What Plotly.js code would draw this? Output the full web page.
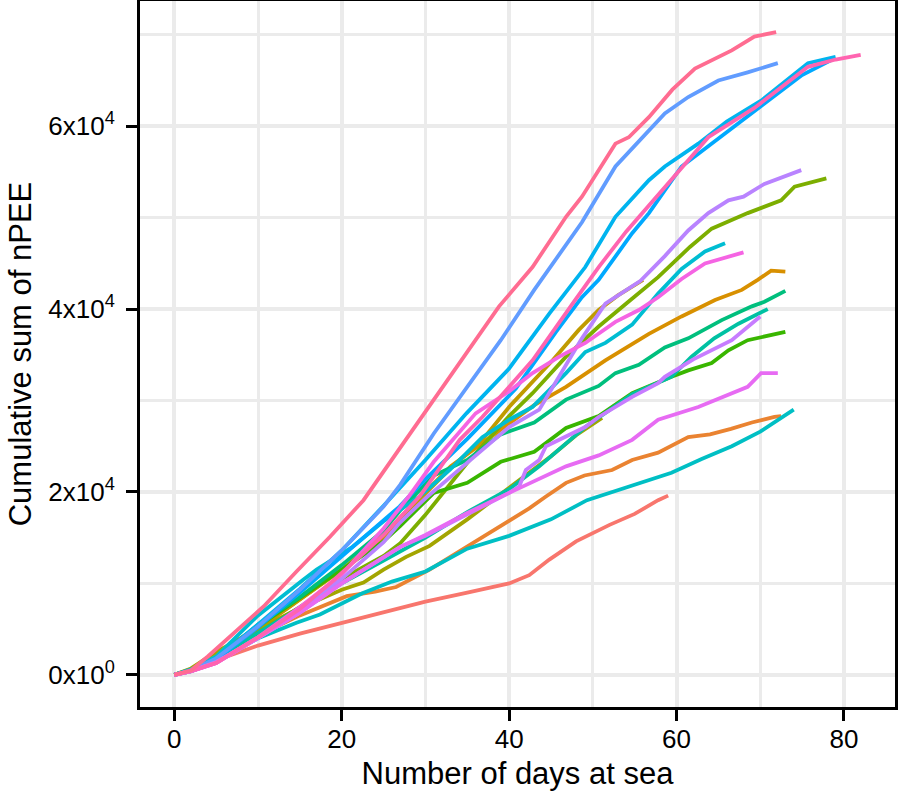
<!DOCTYPE html>
<html>
<head>
<meta charset="utf-8">
<script src="https://cdn.plot.ly/plotly-3.0.1.min.js"></script>
<style>html,body{margin:0;padding:0;background:#fff;}#chart{width:898px;height:795px;}</style>
</head>
<body>
<div id="chart"></div>
<script>
// ---- data (days at sea, cumulative nPEE) ----
const s01_days = [0, 2, 5, 10, 15, 20, 25, 30, 35, 40, 42.4, 44.8, 48, 52, 55, 57.8, 59];
const s01_npee = [0, 500, 1600, 3200, 4500, 5700, 6900, 8000, 9000, 10000, 10900, 12600, 14600, 16400, 17600, 19100, 19600];

const s02_days = [0, 2, 5, 10, 15, 20.6, 24, 26.5, 30.5, 34.4, 38, 42.4, 44.4, 46.8, 49, 52.3, 54.7, 57.8, 61.4, 64, 66.5, 69, 71.7, 72.5];
const s02_npee = [0, 400, 1400, 4300, 6500, 8600, 9100, 9600, 11500, 13700, 15800, 18200, 19500, 21000, 21800, 22400, 23500, 24300, 26000, 26300, 26900, 27600, 28200, 28300];

const s03_days = [0, 2, 5, 10, 15, 20, 25, 27, 30, 33, 36, 40, 43, 46.8, 51.5, 56.7, 60.6, 64.6, 67.8, 69.7, 71.3, 73];
const s03_npee = [0, 500, 1700, 5000, 8200, 11500, 15000, 17200, 20000, 22800, 24800, 27500, 29500, 31500, 34400, 37300, 39200, 41000, 42100, 43200, 44200, 44100];

const s04_days = [0, 2, 5, 10, 13.5, 20, 25, 29.3, 33, 36.8, 40, 45.2, 48.3, 50.7, 53, 56];
const s04_npee = [0, 600, 2300, 5200, 7300, 11500, 15300, 19200, 22600, 25700, 29300, 34400, 37700, 39900, 41500, 43200];

const s05_days = [0, 2, 5, 10, 15, 20, 22.6, 25, 27.7, 30.5, 35, 40, 45, 48, 51.1];
const s05_npee = [0, 700, 2500, 5000, 7300, 9300, 10100, 11500, 12900, 14100, 17000, 20400, 23900, 26200, 28100];

const s06_days = [0, 2, 5, 10, 15, 20, 25, 27, 30, 35, 40, 42.8, 46.8, 50.7, 54.5, 57.8, 61.6, 64.2, 68.5, 72.5, 74.1, 77.9];
const s06_npee = [0, 500, 1600, 4600, 7400, 10500, 13000, 14400, 17500, 23200, 28300, 30800, 34800, 38100, 41000, 43500, 46800, 48800, 50500, 51900, 53400, 54300];

const s07_days = [0, 2, 5, 10, 15, 20, 25, 27, 31, 35, 39, 43, 46.8, 50.7, 54.7, 59.4, 61.4, 64.2, 66.2, 68.5, 70.5, 73];
const s07_npee = [0, 500, 1700, 5300, 8400, 11500, 14600, 16300, 19900, 21000, 23300, 24400, 27000, 28300, 30800, 32600, 33300, 34100, 35500, 36600, 37000, 37500];

const s08_days = [0, 2, 5, 10, 15, 20, 25, 27, 31, 35, 39, 43, 46.8, 50.7, 52.7, 55.5, 58.6, 61.4, 65.4, 69, 70.5, 73];
const s08_npee = [0, 500, 1700, 5500, 8500, 12000, 15800, 18000, 21800, 23500, 26300, 27600, 30100, 31600, 33000, 33900, 35800, 36800, 38800, 40300, 40800, 42000];

const s09_days = [0, 2, 5, 10, 15, 20, 25, 30, 35, 40, 43.6, 49.1, 54.7, 59.4, 61.8, 64.5, 67.4, 70.9];
const s09_npee = [0, 400, 1500, 4600, 7300, 10000, 12500, 15000, 17800, 20300, 22800, 27100, 30700, 32600, 34800, 36800, 38400, 40000];

const s10_days = [0, 2, 5, 10, 14.6, 17.4, 22.4, 26, 30, 35, 40, 45, 49.3, 55, 59.4, 63, 66.6, 70, 74];
const s10_npee = [0, 400, 1400, 4000, 5700, 6600, 8900, 10200, 11300, 13800, 15200, 17000, 19100, 20800, 22100, 23600, 25000, 26600, 29000];

const s11_days = [0, 2, 5, 10, 15.4, 17, 21.3, 25, 29.3, 33, 36.8, 40, 42.8, 46.8, 49.1, 51.5, 54.7, 57.8, 60.6, 63.4, 65.8];
const s11_npee = [0, 600, 2000, 6500, 10400, 11500, 14000, 16800, 19500, 22500, 26000, 27900, 29300, 33000, 35300, 36300, 38300, 41700, 44400, 46300, 47200];

const s12_days = [0, 2, 5, 10, 15, 20, 25, 30, 34.9, 40, 44.8, 49.1, 52.7, 56.7, 58.6, 62.6, 66, 70.1, 75.7, 79];
const s12_npee = [0, 500, 1800, 5500, 9400, 13600, 18500, 23500, 28600, 33500, 39500, 44600, 50100, 54100, 55600, 58100, 60500, 62800, 66900, 67600];

const s13_days = [0, 2, 5, 10, 15, 20, 25, 26.9, 30, 35, 40.8, 45.6, 48.7, 50.7, 54.7, 56.7, 60.6, 65.8, 71.7, 75, 78.6];
const s13_npee = [0, 500, 1700, 5200, 9000, 13000, 17000, 18400, 21400, 25800, 31300, 37500, 41300, 43200, 48300, 50500, 55600, 59200, 63200, 65600, 67300];

const s14_days = [0, 2, 5, 10, 15, 20, 25, 27, 31, 35, 39, 43, 47, 48.7, 52.7, 55.9, 58.6, 61.4, 65, 68.5, 72.1];
const s14_npee = [0, 500, 1800, 5300, 9300, 13600, 18400, 20800, 26400, 31500, 36600, 42100, 47200, 49500, 55600, 58800, 61400, 63200, 65000, 65900, 66900];

const s15_days = [0, 2, 5, 10, 15, 20, 25, 26.9, 30, 35, 40, 43.6, 46, 48.7, 51.5, 53, 55.7, 58.6, 61.4, 63.8, 66.2, 68, 70.5, 74.9];
const s15_npee = [0, 400, 1400, 4000, 7000, 10500, 14500, 16600, 19300, 23200, 27100, 29000, 32600, 36800, 40600, 41500, 43100, 45800, 48600, 50500, 51900, 52300, 53700, 55200];

const s16_days = [0, 2, 5, 10, 15, 20, 25, 27, 30, 35, 40, 41.2, 42, 43.6, 44.4, 49.1, 50.7, 54.7, 57.8, 58.6, 62, 66.6, 70];
const s16_npee = [0, 400, 1300, 4000, 6800, 10000, 12800, 14000, 15200, 17600, 19900, 20600, 22400, 23500, 25000, 27100, 28200, 30400, 31900, 32600, 34500, 36600, 39200];

const s17_days = [0, 2, 5, 10, 15, 20, 25, 27, 30, 35, 40, 46.8, 50.7, 54.7, 57.8, 62.6, 68.5, 70.1, 72.1];
const s17_npee = [0, 400, 1300, 4000, 6800, 10000, 12800, 14000, 15300, 17700, 19900, 22800, 24000, 25700, 27900, 29300, 31500, 33000, 33000];

const s18_days = [0, 2, 5, 10, 15, 20, 25, 28, 31, 36, 40, 42.8, 46, 49.1, 52.7, 55.5, 57.8, 60.6, 63.4, 66, 68];
const s18_npee = [0, 400, 1300, 4100, 7400, 11000, 16000, 19500, 23300, 28600, 31000, 33000, 34800, 36300, 38600, 39900, 41300, 43300, 45000, 45700, 46200];

const s19_days = [0, 2, 5, 10, 15, 18.6, 22, 25, 29.3, 34.1, 36.8, 42.8, 47.9, 50.7, 54, 58.6, 63.8, 69.3, 75.7, 79, 82];
const s19_npee = [0, 400, 1300, 4100, 7200, 10000, 12800, 15300, 19500, 25700, 28200, 34400, 41000, 44600, 48500, 53400, 58800, 62000, 66500, 67300, 67800];

const s20_days = [0, 2, 4, 6.7, 10.7, 14.6, 18.6, 22.6, 26.5, 30.9, 34.9, 38.8, 42.8, 46.8, 48.7, 52.7, 54.3, 56.7, 59.5, 62.2, 66.6, 69.3, 71.9];
const s20_npee = [0, 500, 2000, 4200, 7500, 11300, 15100, 19100, 24200, 30000, 35200, 40300, 44600, 50100, 52300, 58100, 58800, 61000, 64000, 66300, 68300, 69800, 70300];

const lineColors = ['#F8766D','#EA8331','#D89000','#C09B00','#A3A500','#7CAE00','#39B600','#00BF7D','#00C1A3','#00BFC4',
                    '#00BDD2','#00B4EF','#00A9FF','#619CFF','#B983FF','#C77CFF','#E76BF3','#F564E3','#FF64B0','#FF6C91'];

const xTickVals = [0, 20, 40, 60, 80];
const xMinorVals = [10, 30, 50, 70];
const yTickVals = [0, 20000, 40000, 60000];
const yTickText = ['0x10<sup>0</sup>', '2x10<sup>4</sup>', '4x10<sup>4</sup>', '6x10<sup>4</sup>'];
const yMinorVals = [10000, 30000, 50000, 70000];

const allDays = [s01_days,s02_days,s03_days,s04_days,s05_days,s06_days,s07_days,s08_days,s09_days,s10_days,
                 s11_days,s12_days,s13_days,s14_days,s15_days,s16_days,s17_days,s18_days,s19_days,s20_days];
const allNpee = [s01_npee,s02_npee,s03_npee,s04_npee,s05_npee,s06_npee,s07_npee,s08_npee,s09_npee,s10_npee,
                 s11_npee,s12_npee,s13_npee,s14_npee,s15_npee,s16_npee,s17_npee,s18_npee,s19_npee,s20_npee];

const traces = allDays.map((d, i) => ({
  type: 'scatter', mode: 'lines', x: d, y: allNpee[i],
  name: 'ID ' + (i + 1),
  line: {color: lineColors[i], width: 3.8, shape: 'linear'},
  hoverinfo: 'x+y+name'
}));

const gridCol = '#EBEBEB';
const layout = {
  width: 898, height: 795,
  margin: {l: 140, r: 3, t: 1, b: 88, pad: 0},
  paper_bgcolor: '#ffffff', plot_bgcolor: '#ffffff',
  showlegend: false,
  font: {family: 'Liberation Sans, Arial, Helvetica, sans-serif', color: '#000000'},
  xaxis: {
    range: [-4.1, 86.1], tickmode: 'array', tickvals: xTickVals,
    ticks: 'outside', ticklen: 11, tickwidth: 3, tickcolor: '#000',
    showline: true, linecolor: '#000', linewidth: 3, mirror: true,
    showgrid: true, gridcolor: gridCol, gridwidth: 3.5, zeroline: false,
    minor: {tickmode: 'array', tickvals: xMinorVals, showgrid: true, gridcolor: gridCol, gridwidth: 2.5, ticks: ''},
    tickfont: {size: 26, color: '#000'}, ticklabelstandoff: -4,
    title: {text: 'Number of days at sea', font: {size: 31, color: '#000'}, standoff: 10}
  },
  yaxis: {
    range: [-3520, 73700], tickmode: 'array', tickvals: yTickVals, ticktext: yTickText,
    ticks: 'outside', ticklen: 11, tickwidth: 3, tickcolor: '#000',
    showline: true, linecolor: '#000', linewidth: 3, mirror: true,
    showgrid: true, gridcolor: gridCol, gridwidth: 3.5, zeroline: false,
    minor: {tickmode: 'array', tickvals: yMinorVals, showgrid: true, gridcolor: gridCol, gridwidth: 2.5, ticks: ''},
    tickfont: {size: 26, color: '#000'}, ticklabelstandoff: 6,
    title: {text: 'Cumulative sum of nPEE', font: {size: 31, color: '#000'}, standoff: 8}
  }
};

Plotly.newPlot('chart', traces, layout, {displayModeBar: false, responsive: false});
</script>
</body>
</html>
